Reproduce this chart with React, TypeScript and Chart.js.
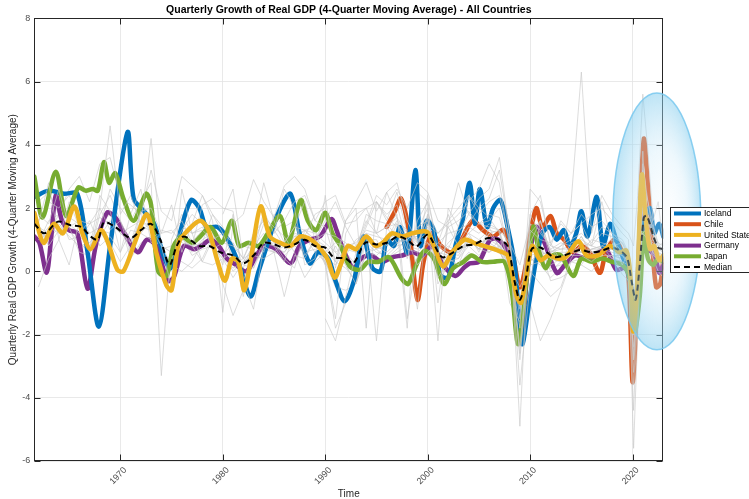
import React, { useEffect, useRef } from 'react';
import { Chart, registerables } from 'chart.js';

Chart.register(...registerables);

const FONT = '"Liberation Sans", Arial, Helvetica, sans-serif';
const TITLE = 'Quarterly Growth of Real GDP (4-Quarter Moving Average) - All Countries';
const Y_TITLE = 'Quarterly Real GDP Growth (4-Quarter Moving Average)';
const X_TITLE = 'Time';

const xTickValues = [1970, 1980, 1990, 2000, 2010, 2020];
const yTickValues = [-6, -4, -2, 0, 2, 4, 6, 8];
const X_MIN = 1961.6;
const X_MAX = 2023.0;
const Y_MIN = -6;
const Y_MAX = 8;

// highlight ellipse (data units)
const ELLIPSE_CENTER_YEAR = 2022.37;
const ELLIPSE_CENTER_VALUE = 1.58;
const ELLIPSE_HALF_YEARS = 4.3;
const ELLIPSE_HALF_VALUE = 4.06;

const legendLabels = ['Iceland', 'Chile', 'United States', 'Germany', 'Japan', 'Median'];

// [year, value]
const iceland = [
  [1961.6, 2.35], [1963.0, 2.55], [1964.5, 2.45], [1965.8, 2.45], [1966.8, 0.6], [1967.9, -1.75],
  [1969.0, 0.8], [1970.7, 4.4], [1971.3, 2.3], [1972.3, 1.9], [1973.3, 1.5], [1974.2, 0.5],
  [1974.9, 0.1], [1975.8, 1.2], [1976.9, 2.25], [1977.7, 2.0], [1978.4, 1.4], [1979.5, 1.4],
  [1980.5, 1.0], [1981.6, 0.2], [1982.7, -0.8], [1983.5, 0.0], [1984.5, 1.0], [1985.5, 1.9],
  [1986.6, 2.45], [1987.5, 1.2], [1988.5, 0.25], [1989.3, 0.6], [1990.3, 0.4], [1991.0, -0.3],
  [1991.9, -0.95], [1992.8, -0.3], [1993.7, 1.1], [1994.6, 0.1], [1995.4, 0.0], [1996.0, 1.0],
  [1996.7, 0.8], [1997.3, 1.4], [1998.0, 0.6], [1998.8, 3.2], [1999.3, 0.8], [1999.9, 1.6],
  [2000.6, 1.3], [2001.2, -0.1], [2002.0, -0.2], [2002.7, 0.8], [2003.4, 1.6], [2004.1, 2.8],
  [2004.6, 1.5], [2005.1, 2.6], [2005.8, 1.4], [2006.4, 2.0], [2007.1, 2.25], [2007.8, 1.4],
  [2008.5, 0.2], [2009.2, -2.3], [2009.9, -1.0], [2010.6, 0.4], [2011.2, 1.2], [2011.9, 1.4],
  [2012.6, 1.0], [2013.3, 1.3], [2013.9, 0.8], [2014.5, 1.2], [2015.0, 1.9], [2015.6, 1.1],
  [2016.5, 2.35], [2017.1, 0.8], [2017.8, 1.5], [2018.4, 1.0], [2019.1, 0.4], [2019.7, -0.2],
  [2020.2, -1.3], [2020.5, -0.6], [2021.0, 1.4], [2021.7, 2.0], [2022.1, 1.2], [2022.6, 1.5],
  [2023.0, 1.1],
];

const chile = [
  [1996.0, 1.4], [1996.8, 1.9], [1997.4, 2.3], [1998.2, 1.2], [1999.0, -0.9], [1999.6, 0.3],
  [2000.4, 1.2], [2001.3, 0.8], [2002.3, 0.6], [2003.3, 1.0], [2004.4, 1.6], [2005.4, 1.3],
  [2006.4, 1.1], [2007.4, 1.3], [2008.3, 0.5], [2009.0, -0.5], [2009.6, 0.2], [2010.0, 1.1],
  [2010.6, 2.0], [2011.2, 1.4], [2012.0, 1.75], [2012.6, 1.2], [2013.3, 1.0], [2014.2, 0.6],
  [2015.0, 0.8], [2015.8, 0.6], [2016.8, -0.05], [2017.4, 0.6], [2018.2, 1.0], [2019.0, 0.6],
  [2019.6, -0.2], [2020.0, -3.5], [2020.4, -1.2], [2020.8, 2.4], [2021.1, 4.2], [2021.5, 2.7],
  [2021.9, 0.9], [2022.3, -0.5], [2022.7, -0.4], [2023.0, 0.4],
];

const unitedStates = [
  [1961.6, 1.85], [1962.5, 0.9], [1963.5, 1.5], [1964.4, 1.2], [1965.5, 2.05], [1966.3, 1.2],
  [1967.1, 0.7], [1968.1, 1.3], [1968.8, 0.9], [1969.7, 0.05], [1970.3, 0.0], [1971.4, 0.9],
  [1972.6, 1.8], [1973.5, 0.6], [1974.5, -0.45], [1975.0, -0.6], [1975.7, 0.9], [1976.6, 1.3],
  [1977.8, 1.6], [1978.6, 1.3], [1979.5, 0.3], [1980.2, -0.3], [1980.9, 0.4], [1981.5, 0.3],
  [1982.1, -0.6], [1982.8, 0.5], [1983.7, 2.05], [1984.6, 1.1], [1985.6, 0.9], [1986.6, 0.8],
  [1987.6, 1.1], [1988.6, 1.0], [1989.3, 0.8], [1990.2, 0.4], [1990.9, -0.2], [1991.5, 0.2],
  [1992.2, 0.8], [1993.0, 0.7], [1994.0, 1.1], [1994.9, 0.8], [1995.6, 0.9], [1996.5, 1.2],
  [1997.5, 1.1], [1998.5, 1.2], [1999.9, 1.25], [2000.6, 0.8], [2001.5, 0.15], [2002.4, 0.6],
  [2003.6, 1.0], [2004.5, 0.9], [2005.5, 0.8], [2006.9, 0.65], [2007.8, 0.5], [2008.7, -0.8],
  [2009.1, -1.0], [2009.6, -0.2], [2010.2, 0.8], [2011.0, 0.35], [2011.8, 0.5], [2012.7, 0.4],
  [2013.5, 0.45], [2014.7, 0.95], [2015.5, 0.5], [2016.6, 0.5], [2017.8, 0.8], [2018.7, 0.6],
  [2019.4, 0.65], [2019.8, -0.2], [2020.05, -1.9], [2020.4, -0.8], [2020.9, 3.05], [2021.3, 1.6],
  [2021.7, 0.7], [2022.1, 0.8], [2022.6, 0.35], [2023.0, 0.5],
];

const germany = [
  [1961.6, 1.1], [1962.1, 0.9], [1962.8, -0.05], [1963.2, 0.9], [1963.7, 2.4], [1964.3, 1.6],
  [1965.0, 1.3], [1965.8, 1.2], [1966.8, -0.55], [1967.6, 0.8], [1968.7, 1.85], [1969.5, 1.7],
  [1970.4, 1.2], [1971.7, 0.6], [1972.6, 1.0], [1973.5, 0.8], [1974.6, -0.3], [1975.2, -0.2],
  [1976.2, 0.8], [1977.2, 0.7], [1977.9, 0.8], [1978.8, 1.0], [1979.6, 0.8], [1980.4, 0.4],
  [1981.3, 0.2], [1982.3, 0.0], [1983.3, 0.5], [1984.0, 0.8], [1985.2, 0.7], [1986.6, 0.25],
  [1987.5, 0.8], [1988.5, 1.0], [1989.5, 1.1], [1990.6, 1.65], [1991.1, 1.3], [1991.8, 0.65],
  [1992.75, 0.1], [1993.5, 0.4], [1994.5, 0.5], [1995.5, 0.3], [1996.6, 0.45], [1997.5, 0.5],
  [1998.5, 0.6], [1999.5, 0.5], [2000.5, 0.8], [2001.5, 0.2], [2002.7, -0.15], [2003.5, 0.1],
  [2004.1, 0.25], [2005.0, 0.3], [2006.1, 1.0], [2006.9, 1.0], [2007.8, 0.6], [2008.6, -0.8],
  [2009.2, -1.9], [2009.8, 0.2], [2010.6, 1.4], [2011.4, 0.9], [2012.6, -0.05], [2013.4, 0.2],
  [2014.4, 0.5], [2015.4, 0.4], [2016.4, 0.5], [2017.4, 0.7], [2018.4, 0.05], [2019.3, 0.1],
  [2019.8, -0.4], [2020.2, -1.7], [2020.6, -0.4], [2021.1, 2.0], [2021.6, 0.7], [2022.2, 0.5],
  [2022.6, -0.05], [2023.0, 0.2],
];

const japan = [
  [1961.6, 3.0], [1962.4, 1.7], [1963.7, 3.15], [1964.7, 1.75], [1965.9, 2.65], [1966.6, 2.55],
  [1967.3, 2.6], [1967.8, 2.55], [1968.4, 3.45], [1968.9, 2.8], [1969.5, 3.1], [1970.3, 2.3],
  [1971.3, 1.6], [1972.5, 2.45], [1973.0, 2.1], [1973.7, 0.0], [1974.5, -0.15], [1975.2, 0.8],
  [1976.0, 1.1], [1977.0, 0.9], [1977.8, 1.1], [1978.8, 1.4], [1979.9, 0.9], [1980.9, 1.6],
  [1981.6, 0.8], [1982.5, 0.9], [1983.5, 0.8], [1984.4, 1.2], [1985.6, 1.75], [1986.4, 0.9],
  [1987.6, 2.25], [1988.3, 1.6], [1989.1, 1.3], [1990.0, 1.85], [1990.7, 1.2], [1991.5, 0.8],
  [1992.4, 0.15], [1993.4, 0.05], [1994.2, 0.3], [1995.2, 0.3], [1996.2, 0.45], [1997.5, -0.25],
  [1998.1, -0.4], [1998.9, 0.2], [1999.7, 0.65], [2000.6, 0.4], [2001.6, -0.4], [2002.5, 0.1],
  [2003.5, 0.3], [2004.3, 0.5], [2005.3, 0.3], [2006.4, 0.3], [2007.5, 0.3], [2008.2, -0.6],
  [2008.8, -2.3], [2009.3, -1.3], [2010.3, 1.4], [2010.9, 0.6], [2011.5, 0.1], [2012.2, 0.5],
  [2013.0, 0.5], [2014.2, -0.15], [2015.0, 0.4], [2016.0, 0.3], [2017.0, 0.4], [2018.0, 0.3],
  [2019.0, 0.2], [2019.7, -0.2], [2020.2, -1.9], [2020.7, -0.8], [2021.1, 1.2], [2021.5, 0.4],
  [2022.0, 0.2], [2022.5, 0.4], [2023.0, 0.3],
];

const median = [
  [1961.6, 1.5], [1962.6, 1.2], [1963.9, 1.57], [1965.2, 1.45], [1966.2, 1.4], [1967.1, 1.1],
  [1967.8, 1.0], [1968.4, 1.55], [1969.5, 1.4], [1971.0, 1.05], [1972.0, 1.3], [1973.0, 1.5],
  [1973.9, 1.0], [1974.8, 0.2], [1975.5, 0.8], [1976.2, 1.1], [1977.7, 0.8], [1978.7, 0.8],
  [1979.75, 0.6], [1981.0, 0.5], [1982.0, 0.25], [1983.0, 0.5], [1984.0, 0.9], [1985.0, 0.85],
  [1986.0, 0.75], [1987.0, 0.85], [1988.0, 1.0], [1989.0, 0.8], [1990.0, 0.75], [1990.8, 0.45],
  [1992.0, 0.4], [1992.75, 0.25], [1993.9, 0.9], [1995.0, 0.85], [1996.0, 0.9], [1997.1, 1.1],
  [1998.0, 1.0], [1998.9, 0.78], [2000.0, 1.15], [2001.4, 0.45], [2002.5, 0.6], [2003.5, 0.8],
  [2004.5, 0.85], [2005.9, 1.05], [2007.0, 1.0], [2007.8, 0.8], [2008.5, -0.35], [2009.0, -0.9],
  [2009.6, -0.2], [2010.15, 0.7], [2011.0, 0.75], [2012.3, 0.45], [2013.3, 0.5], [2014.85, 0.67],
  [2016.0, 0.6], [2017.0, 0.65], [2018.0, 0.75], [2019.0, 0.6], [2019.5, 0.4], [2019.9, -0.3],
  [2020.3, -0.9], [2020.7, 0.2], [2021.1, 1.7], [2021.4, 1.75], [2022.05, 1.1], [2022.5, 0.75],
  [2023.0, 0.7],
];

// other countries (gray), sampled on grayTimes
const grayTimes = [
  1962, 1963, 1964, 1965, 1966, 1967, 1968, 1969, 1970, 1971,
  1972, 1973, 1974, 1975, 1976, 1977, 1978, 1979, 1980, 1981,
  1982, 1983, 1984, 1985, 1986, 1987, 1988, 1989, 1990, 1991,
  1992, 1993, 1994, 1995, 1996, 1997, 1998, 1999, 2000, 2001,
  2002, 2003, 2004, 2005, 2006, 2007, 2008, 2009, 2010, 2011,
  2012, 2013, 2014, 2015, 2016, 2017, 2018, 2019,
  2019.6, 2020.1, 2020.5, 2021.0, 2021.5, 2022.0, 2022.5, 2023.0,
];
const N = null;
const gray01 = [
  2.2, 2.5, 1.8, 2.6, 3.0, 2.2, 3.4, 3.6, 2.3, 2.1,
  1.8, 3.2, 1.9, 1.6, 3.0, 2.7, 2.4, 1.6, -1.3, 1.5,
  1.8, 2.9, 2.2, 1.7, 2.7, 3.0, 2.6, 1.6, 2.2, 2.4,
  1.5, 1.6, 2.0, 2.2, 1.7, 1.4, -1.8, 2.5, 2.2, 0.9,
  1.8, 0.8, 1.2, 1.0, 1.3, 1.2, 0.4, -0.6, 1.6, 0.8,
  0.6, 0.7, 0.8, 0.6, 0.7, 0.7, 0.7, 0.5,
  0.4, -0.8, 0.3, 1.4, 0.9, 0.6, 0.7, 0.6,
];
const gray02 = [
  1.5, 2.8, 1.0, 2.2, 1.4, 0.6, 2.0, 4.6, 1.8, 2.4,
  1.5, 4.2, 0.8, -0.5, 2.6, 1.2, 0.3, 1.0, 0.2, 1.8,
  -0.3, 0.6, 1.9, 1.2, 2.6, 2.0, 0.2, 0.4, 2.4, 0.1,
  1.6, 2.0, -1.8, 2.2, 1.8, 2.1, 0.9, -1.2, 1.8, -2.2,
  2.0, 1.4, 2.4, 2.0, 1.7, 1.2, 0.2, -1.8, 2.6, 2.2,
  0.9, 1.5, 1.2, 1.5, 0.8, 2.2, 0.9, 0.2,
  0.6, -2.8, 0.6, 3.2, 1.8, 1.4, 0.9, 0.6,
];
const gray03 = [
  1.8, 1.5, 2.6, 1.4, 1.6, 1.5, 2.0, 1.3, 1.6, 0.9,
  1.9, 2.0, 1.2, 1.3, 0.9, 0.8, 2.1, 2.3, 2.0, 1.9,
  -0.3, -1.2, 0.8, 0.6, -0.8, 0.5, 0.4, 1.0, 1.2, 1.1,
  0.9, 0.6, 1.1, -2.2, 1.4, 1.7, 1.2, 0.9, 1.7, -0.2,
  0.3, 0.4, 1.0, 0.7, 1.2, 0.8, 0.4, -2.4, 1.3, 1.0,
  0.9, 0.3, 0.6, 0.8, 0.6, 0.5, 0.5, -0.1,
  -0.3, -4.4, -1.2, 3.8, 0.9, 1.0, 0.8, 0.9,
];
const gray04 = [
  1.2, 0.9, 1.6, 1.3, 0.9, 0.6, 1.5, 1.8, 1.4, 0.9,
  1.2, 1.6, 0.5, -0.3, 1.3, 0.8, 0.9, 1.0, 0.6, 0.2,
  0.4, 0.6, 0.7, 0.6, 0.8, 0.9, 1.1, 0.9, 0.7, 0.3,
  0.1, -0.3, 0.6, 0.7, 0.4, 0.6, 0.8, 0.7, 1.0, 0.5,
  0.3, 0.2, 0.6, 0.4, 0.7, 0.6, 0.1, -1.3, 0.5, 0.6,
  0.1, 0.2, 0.4, 0.5, 0.5, 0.6, 0.5, 0.4,
  0.2, -1.6, -0.8, 1.4, 1.0, 0.8, 0.4, 0.3,
];
const gray05 = [
  1.4, 1.2, 1.8, 1.0, 1.1, 0.8, 1.1, 1.6, 1.2, 1.0,
  1.4, 1.3, 0.3, -0.5, 1.1, 0.5, 0.7, 0.8, 0.4, -0.2,
  0.3, 0.5, 0.9, 0.7, 0.6, 1.0, 1.3, 1.0, 0.8, 0.4,
  0.6, 0.2, 0.9, 0.6, 0.5, 0.8, 0.9, 0.8, 1.1, 0.3,
  0.5, 0.4, 0.8, 0.5, 0.9, 0.7, -0.2, -1.8, 0.4, 0.2,
  -0.2, 0.1, 0.3, 0.4, 0.6, 0.7, 0.4, 0.3,
  0.1, -2.4, -1.0, 2.2, 1.0, 0.8, 0.3, 0.2,
];
const gray06 = [
  1.6, 2.2, 2.0, 2.4, 1.7, 1.2, 1.4, 2.6, 2.0, 1.6,
  2.2, 2.8, -3.3, 1.0, 1.8, 1.2, 1.4, 0.8, 0.4, 0.6,
  0.2, 0.1, 0.8, 0.9, 0.4, 0.1, 1.3, 0.9, 0.2, 0.8,
  0.2, -0.4, 0.6, 0.5, 0.8, 1.0, 0.9, 0.8, 1.1, 0.9,
  0.7, 1.4, 1.2, 0.6, 1.4, 0.7, -0.2, -1.2, -1.0, -2.2,
  -1.5, -0.6, 0.3, 0.2, 0.0, 0.4, 0.5, 0.4,
  0.3, -3.6, -1.0, 2.5, 1.6, 1.2, 0.6, 0.5,
];
const gray07 = [
  N, N, N, N, N, N, N, N, 1.2, 0.9,
  1.6, 1.4, 0.8, 0.6, 1.3, 1.8, 1.5, 0.7, 0.9, 0.8,
  0.4, 0.1, 1.0, 0.8, 0.3, 1.2, 1.1, 1.8, 2.0, 0.6,
  0.8, 0.7, 1.5, 2.4, 2.1, 2.6, 2.0, 2.8, 2.5, 1.6,
  1.4, 0.8, 1.2, 1.5, 1.4, 1.3, -1.0, -1.6, 0.3, 0.6,
  0.2, 0.4, 2.2, 6.3, 1.2, 2.4, 1.8, 1.4,
  1.2, 0.8, 2.4, 5.6, 3.8, 1.6, 2.2, 0.8,
];
const gray08 = [
  N, N, N, N, N, N, N, N, N, N,
  N, N, N, N, N, N, N, N, 1.8, 2.6,
  0.4, 1.2, 2.8, 1.6, 0.9, 1.4, 2.2, 1.0, 0.3, -1.5,
  1.2, 1.8, 2.0, 1.2, 2.5, 1.7, 0.4, 1.6, 2.2, -1.0,
  1.5, 2.8, 1.8, 2.3, 2.6, 3.6, 1.2, -4.9, 1.8, 2.4,
  0.8, 1.6, 1.2, 1.8, 1.4, 1.6, 1.2, 0.9,
  0.5, -2.0, -0.6, 3.0, 2.2, 1.2, 0.9, 0.8,
];
const gray09 = [
  N, N, N, N, N, N, N, N, N, N,
  N, N, N, N, N, N, N, N, N, N,
  N, N, N, N, N, N, N, N, -1.5, -2.2,
  -0.8, 0.6, 1.4, 2.2, 1.6, 2.5, 1.2, 0.8, 1.8, 1.2,
  1.5, 1.8, 2.2, 2.6, 3.4, 2.8, 0.8, -3.6, -0.4, 1.6,
  0.6, 0.8, 1.0, 1.2, 0.9, 1.4, 1.2, 1.0,
  0.6, -2.8, -0.8, 2.6, 1.8, 1.2, 0.6, 0.4,
];
const gray10 = [
  1.0, 1.2, 1.5, 1.1, 0.8, 0.9, 1.3, 1.2, 1.5, 0.4,
  0.9, 1.1, 0.8, 0.6, 0.3, 0.1, 0.4, 1.1, 0.6, 0.0,
  0.3, 0.8, 1.2, 0.6, 0.5, 0.8, 0.6, 0.7, 0.3, -0.5,
  -0.6, -0.4, 1.0, 1.0, 0.4, 0.7, 1.0, 1.1, 1.2, 0.3,
  0.6, 0.5, 1.1, 0.7, 1.1, 0.9, 0.0, -1.5, 1.5, 0.8,
  0.0, 0.3, 0.7, 1.1, 0.6, 0.7, 0.5, 0.5,
  0.3, -2.0, -0.4, 1.8, 1.2, 0.7, 0.2, 0.0,
];
const gray11 = [
  0.9, 1.6, 1.8, 1.4, 1.0, 1.5, 1.7, 1.5, 1.2, 1.4,
  1.6, 1.3, 0.7, 0.8, 1.2, 0.6, 1.0, 1.2, 0.5, 0.9,
  -0.8, 0.6, 1.5, 1.3, 0.8, 1.1, 1.1, 0.6, 0.3, -0.4,
  0.5, 1.0, 1.2, 0.7, 0.8, 1.2, 1.0, 1.2, 1.0, 0.5,
  0.8, 0.6, 0.9, 0.8, 0.6, 1.0, 0.3, -0.9, 0.9, 0.6,
  0.5, 0.6, 0.6, 0.4, 0.5, 0.6, 0.5, 0.5,
  0.3, -2.2, -0.3, 1.8, 0.9, 0.8, 0.6, 0.5,
];
const gray12 = [
  N, N, N, N, N, N, N, N, N, N,
  N, N, N, 0.4, 1.0, 0.8, 0.3, 0.2, 0.4, 0.1,
  0.3, 0.5, 0.4, 0.6, 0.9, 1.4, 1.3, 1.2, 0.9, 0.6,
  0.2, -0.4, 0.6, 0.8, 0.6, 0.9, 1.1, 1.0, 1.2, 0.8,
  0.6, 0.7, 0.8, 0.9, 1.0, 0.8, 0.2, -1.1, 0.0, -0.4,
  -0.8, -0.5, 0.4, 0.9, 0.8, 0.7, 0.6, 0.5,
  0.2, -5.6, -2.0, 2.4, 1.5, 1.2, 0.5, 0.4,
];
const gray13 = [
  -0.5, 0.4, 1.0, 0.2, 1.6, 0.7, 2.4, 1.9, 0.6, 1.8,
  2.6, 0.9, 1.2, 2.1, 0.6, 1.5, 2.4, 1.8, 1.2, 0.9,
  0.4, 1.1, 0.6, 1.8, 1.4, 1.6, 0.5, 1.0, 1.6, 2.2,
  1.4, 0.8, 1.6, 1.2, 1.4, 0.9, 1.0, 1.3, 2.0, -0.4,
  0.2, 0.9, 1.4, 1.2, 1.5, 1.3, 0.9, 0.2, 1.5, 1.3,
  0.7, 0.9, 0.8, 0.6, 1.0, 0.9, 0.8, 0.9,
  0.6, -1.4, 0.8, 2.6, 1.6, 1.2, 0.8, 0.7,
];
const gray14 = [
  N, N, N, N, N, N, N, N, N, N,
  N, N, N, N, N, N, N, N, N, N,
  N, N, N, N, N, N, N, N, N, N,
  N, N, N, N, 1.4, 1.8, -1.5, 0.5, 2.4, 0.6,
  1.4, 1.6, 1.9, 1.5, 1.8, 1.7, 0.6, -1.2, 1.8, 1.2,
  0.8, 0.7, 0.7, 0.6, 0.7, 0.8, 0.7, 0.5,
  0.3, -1.6, 0.2, 1.2, 1.0, 0.6, 0.4, 0.3,
];
const gray15 = [
  N, N, N, N, N, N, N, N, N, N,
  N, N, N, N, N, N, N, N, N, N,
  N, N, N, N, N, N, N, N, N, N,
  N, N, N, 1.2, 0.8, 1.5, 1.0, 1.4, 1.6, 0.4,
  0.9, 1.2, 1.8, 1.5, 1.6, 2.0, 0.4, -2.6, 0.9, 1.6,
  0.4, 0.3, 0.9, 1.0, 0.8, 1.2, 1.1, 0.9,
  0.4, -2.4, -0.2, 2.0, 1.4, 1.0, 0.7, 0.6,
];
const gray16 = [
  1.3, 1.0, 1.4, 1.7, 1.5, 0.8, 1.2, 0.9, 0.3, 0.8,
  1.5, 1.9, 0.2, 0.4, 1.4, 1.2, 1.3, 0.9, -0.4, -1.4,
  -0.6, 1.2, 1.6, 0.9, 0.8, 0.9, 1.0, 0.8, 0.4, 0.2,
  0.7, 0.6, 1.1, 0.7, 1.0, 1.2, 1.1, 1.1, 0.9, 0.2,
  0.5, 0.7, 0.9, 0.8, 0.7, 0.6, 0.1, -1.0, 0.8, 0.6,
  0.5, 0.5, 0.6, 0.6, 0.4, 0.6, 0.7, 0.5,
  0.4, -2.8, -0.6, 2.0, 1.0, 0.9, 0.5, 0.4,
];
const gray17 = [
  1.5, 0.8, 1.3, 1.4, 0.6, 0.5, 1.8, 2.4, 1.6, 0.6,
  1.9, 1.7, 0.8, 0.2, 0.0, 0.3, 0.9, 1.8, 1.4, 0.6,
  0.8, 0.7, 0.9, 0.8, 0.6, 1.1, 1.3, 1.4, 0.2, -1.8,
  -1.0, -0.3, 1.2, 1.1, 1.0, 1.6, 1.3, 1.0, 1.4, 0.6,
  0.5, 0.6, 1.0, 0.7, 1.2, 1.3, 0.2, -2.2, 0.8, 0.7,
  -0.3, -0.2, 0.0, 0.2, 0.7, 0.8, 0.4, 0.3,
  0.3, -1.6, -0.3, 1.0, 0.9, 0.4, 0.0, -0.2,
];
const gray18 = [
  N, N, N, N, N, N, N, N, N, N,
  N, N, N, N, N, N, N, N, N, N,
  N, N, N, 1.2, 1.6, 2.2, 2.4, 1.6, 1.4, 0.3,
  1.6, 2.2, 2.8, 1.9, 2.5, 2.8, 1.6, 0.9, 1.5, 1.2,
  1.6, 2.0, 2.4, 1.8, 2.2, 2.4, 1.0, -1.5, 1.2, 1.6,
  0.6, 0.8, 1.2, 1.5, 1.8, 2.0, 1.6, 1.2,
  1.0, -3.2, -0.5, 3.4, 2.2, 1.5, 0.8, 0.6,
];
const gray19 = [
  1.0, 1.4, 1.2, 1.5, 1.2, 1.6, 0.8, 1.1, 0.6, 1.3,
  1.2, 1.0, 1.3, 1.2, 1.6, 0.9, 1.3, 1.0, 1.2, 0.4,
  0.1, 0.9, 1.7, 1.4, 1.1, 0.6, -0.2, 0.3, 0.6, 0.9,
  0.8, 0.9, 1.3, 1.2, 1.4, 1.5, 0.7, 0.6, 0.9, 0.5,
  0.4, 0.2, 1.0, 0.7, 0.6, 0.8, 0.1, -0.5, 0.2, 0.3,
  0.7, 0.3, 0.5, 0.5, 0.3, 0.6, 0.4, 0.3,
  0.2, -1.2, 0.0, 1.2, 1.4, 0.6, 0.3, 0.2,
];
const gray20 = [
  N, N, N, N, N, N, N, N, N, N,
  N, N, N, N, N, N, N, N, N, N,
  N, N, N, N, N, N, N, N, N, N,
  N, 0.6, 1.8, 1.6, 1.5, 1.1, 1.0, 0.2, 0.6, 0.9,
  1.2, 1.3, 1.5, 2.0, 2.3, 3.2, 1.2, -2.8, 0.9, 0.7,
  0.4, 0.3, 0.7, 1.1, 0.5, 0.8, 1.0, 0.6,
  0.5, -1.9, -0.2, 2.2, 1.6, 0.5, 0.4, 0.5,
];

// drawing layer of each gray country relative to the highlighted ones
// (countries are drawn alphabetically, later ones on top)
const grayCountries = [
  { values: gray01, layer: 10 }, { values: gray04, layer: 10 }, { values: gray11, layer: 10 },
  { values: gray05, layer: 10 }, { values: gray16, layer: 8.5 }, { values: gray10, layer: 8.5 },
  { values: gray17, layer: 7.5 }, { values: gray06, layer: 7.5 }, { values: gray07, layer: 6.5 },
  { values: gray13, layer: 6.5 }, { values: gray02, layer: 5.5 }, { values: gray03, layer: 5.5 },
  { values: gray08, layer: 5.5 }, { values: gray09, layer: 5.5 }, { values: gray12, layer: 5.5 },
  { values: gray14, layer: 5.5 }, { values: gray15, layer: 5.5 }, { values: gray18, layer: 5.5 },
  { values: gray19, layer: 5.5 }, { values: gray20, layer: 5.5 },
];

const COLORS = {
  Iceland: '#0072BD',
  Chile: '#D95319',
  'United States': '#EDB120',
  Germany: '#7E2F8E',
  Japan: '#77AC30',
  Median: '#000000',
};

const pairsToPoints = (pairs: number[][]) => pairs.map(([x, y]) => ({ x, y }));

const decorPlugin = {
  id: 'decor',
  afterDraw(chart: any) {
    const { ctx, chartArea, scales } = chart;
    const xs = scales.x;
    const ys = scales.y;
    const { left, right, top, bottom } = chartArea;
    ctx.save();

    // axes box
    ctx.strokeStyle = '#262626';
    ctx.lineWidth = 1;
    const L = Math.round(left) + 0.5;
    const R = Math.round(right) - 0.5;
    const T = Math.round(top) + 0.5;
    const B = Math.round(bottom) - 0.5;
    ctx.strokeRect(L, T, R - L, B - T);
    ctx.beginPath();
    const tl = 6;
    xTickValues.forEach((v) => {
      const px = Math.round(xs.getPixelForValue(v)) + 0.5;
      ctx.moveTo(px, B); ctx.lineTo(px, B - tl);
      ctx.moveTo(px, T); ctx.lineTo(px, T + tl);
    });
    yTickValues.forEach((v) => {
      const py = Math.round(ys.getPixelForValue(v)) + 0.5;
      ctx.moveTo(L, py); ctx.lineTo(L + tl, py);
      ctx.moveTo(R, py); ctx.lineTo(R - tl, py);
    });
    ctx.stroke();

    // ellipse highlight
    const cx = xs.getPixelForValue(ELLIPSE_CENTER_YEAR);
    const cy = ys.getPixelForValue(ELLIPSE_CENTER_VALUE);
    const rx = Math.abs(xs.getPixelForValue(ELLIPSE_CENTER_YEAR + ELLIPSE_HALF_YEARS) - cx);
    const ry = Math.abs(ys.getPixelForValue(ELLIPSE_CENTER_VALUE + ELLIPSE_HALF_VALUE) - cy);
    ctx.save();
    ctx.translate(cx, cy);
    ctx.scale(rx / ry, 1);
    const g = ctx.createRadialGradient(ry * 0.3, 0, 0, 0, 0, ry);
    g.addColorStop(0, 'rgba(250,253,255,0.2)');
    g.addColorStop(0.55, 'rgba(200,232,248,0.3)');
    g.addColorStop(1, 'rgba(135,206,238,0.55)');
    ctx.beginPath();
    ctx.arc(0, 0, ry, 0, Math.PI * 2);
    ctx.fillStyle = g;
    ctx.fill();
    ctx.restore();
    ctx.beginPath();
    ctx.ellipse(cx, cy, rx, ry, 0, 0, Math.PI * 2);
    ctx.strokeStyle = 'rgba(120,200,238,0.85)';
    ctx.lineWidth = 1.5;
    ctx.stroke();

    // legend
    const lx = 670.5;
    const ly = 207.5;
    const rowH = 10.7;
    ctx.fillStyle = '#ffffff';
    ctx.fillRect(lx, ly, 100, 65);
    ctx.strokeStyle = '#262626';
    ctx.lineWidth = 1;
    ctx.strokeRect(lx, ly, 100, 65);
    ctx.font = `8.5px ${FONT}`;
    ctx.textBaseline = 'middle';
    ctx.textAlign = 'left';
    legendLabels.forEach((name, i) => {
      const yy = ly + 6 + i * rowH;
      ctx.beginPath();
      ctx.strokeStyle = (COLORS as any)[name];
      if (name === 'Median') {
        ctx.lineWidth = 2;
        ctx.setLineDash([6, 4]);
      } else {
        ctx.lineWidth = 4;
        ctx.setLineDash([]);
      }
      ctx.moveTo(674, yy);
      ctx.lineTo(701, yy);
      ctx.stroke();
      ctx.setLineDash([]);
      ctx.fillStyle = '#000000';
      ctx.fillText(name, 704, yy + 0.5);
    });

    // title
    ctx.font = `bold 10.5px ${FONT}`;
    ctx.textAlign = 'center';
    ctx.textBaseline = 'middle';
    ctx.fillStyle = '#000000';
    ctx.fillText(TITLE, (left + right) / 2, 10);
    ctx.restore();
  },
};

export default function App() {
  const canvasRef = useRef<HTMLCanvasElement | null>(null);

  useEffect(() => {
    const canvas = canvasRef.current;
    if (!canvas) return;

    const highlight = [
      { label: 'Chile', data: chile, order: 9 },
      { label: 'Germany', data: germany, order: 8 },
      { label: 'Iceland', data: iceland, order: 7 },
      { label: 'Japan', data: japan, order: 6 },
      { label: 'United States', data: unitedStates, order: 1 },
    ].map((s) => ({
      label: s.label,
      data: pairsToPoints(s.data),
      borderColor: (COLORS as any)[s.label],
      borderWidth: 4.5,
      tension: 0.3,
      borderCapStyle: 'round',
      borderJoinStyle: 'round',
      pointRadius: 0,
      order: s.order,
    }));

    const grays = grayCountries.map((c, i) => ({
      label: `other-${i + 1}`,
      data: grayTimes.map((x, j) => ({ x, y: c.values[j] })),
      borderColor: 'rgba(200,200,200,0.8)',
      borderWidth: 0.8,
      tension: 0,
      pointRadius: 0,
      spanGaps: false,
      order: c.layer,
    }));

    const med = {
      label: 'Median',
      data: pairsToPoints(median),
      borderColor: '#000000',
      borderWidth: 2,
      borderDash: [6, 4],
      tension: 0.3,
      pointRadius: 0,
      order: 0,
    };

    const chart = new Chart(canvas, {
      type: 'line',
      data: { datasets: [med, ...highlight, ...grays] as any },
      plugins: [decorPlugin],
      options: {
        animation: false,
        responsive: false,
        layout: { padding: { top: 18.3, right: 85.7, bottom: 0, left: 0 } },
        plugins: {
          legend: { display: false },
          title: { display: false },
          tooltip: { enabled: false },
        },
        elements: { point: { radius: 0 } },
        scales: {
          x: {
            type: 'linear',
            min: X_MIN,
            max: X_MAX,
            afterBuildTicks: (s: any) => {
              s.ticks = xTickValues.map((v) => ({ value: v }));
            },
            afterFit: (s: any) => {
              s.height = 38;
            },
            grid: { color: '#e3e3e3', lineWidth: 0.8, drawTicks: false },
            border: { display: false },
            ticks: {
              minRotation: 45,
              maxRotation: 45,
              padding: 4,
              labelOffset: 5,
              color: '#4d4d4d',
              font: { family: FONT, size: 9 },
              callback: (v: any) => String(v),
            },
            title: {
              display: true,
              text: X_TITLE,
              color: '#262626',
              font: { family: FONT, size: 10, lineHeight: 1 },
              padding: { top: 0, bottom: 0 },
            },
          },
          y: {
            type: 'linear',
            min: Y_MIN,
            max: Y_MAX,
            afterBuildTicks: (s: any) => {
              s.ticks = yTickValues.map((v) => ({ value: v }));
            },
            afterFit: (s: any) => {
              s.width = 34.3;
            },
            grid: { color: '#e3e3e3', lineWidth: 0.8, drawTicks: false },
            border: { display: false },
            ticks: {
              padding: 4,
              color: '#4d4d4d',
              font: { family: FONT, size: 9 },
              callback: (v: any) => String(v),
            },
            title: {
              display: true,
              text: Y_TITLE,
              color: '#262626',
              font: { family: FONT, size: 10, lineHeight: 1.2 },
              padding: { top: 7, bottom: 0 },
            },
          },
        },
      } as any,
    });

    return () => chart.destroy();
  }, []);

  return (
    <div style={{ position: 'fixed', left: 0, top: 0, width: 749, height: 499, background: '#ffffff' }}>
      <canvas ref={canvasRef} width={749} height={499} style={{ display: 'block' }} />
    </div>
  );
}
